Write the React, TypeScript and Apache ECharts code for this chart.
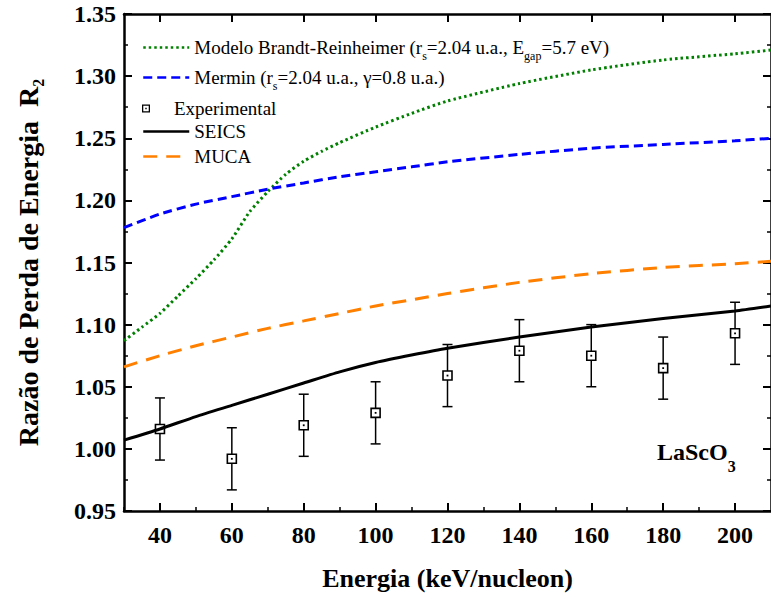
import React, { useEffect, useRef } from "react";
import * as echarts from "echarts";

// ---- data ----
const brEnergy = [30, 35, 40, 45, 50, 55, 60, 65, 70, 75, 80, 85, 90, 100, 110, 120, 140, 160, 180, 200, 210];
const brValues = [1.087, 1.098, 1.109, 1.123, 1.137, 1.152, 1.169, 1.191, 1.207, 1.221, 1.2315, 1.2395, 1.2465, 1.259, 1.27, 1.28, 1.294, 1.305, 1.313, 1.318, 1.321];

const curveEnergy = [30, 40, 50, 60, 70, 80, 90, 100, 110, 120, 140, 160, 180, 200, 210];
const merminValues = [1.178, 1.189, 1.197, 1.203, 1.209, 1.214, 1.219, 1.223, 1.227, 1.231, 1.237, 1.242, 1.245, 1.248, 1.25];
const seicsValues = [1.007, 1.016, 1.026, 1.035, 1.044, 1.053, 1.062, 1.0695, 1.0755, 1.081, 1.09, 1.098, 1.105, 1.111, 1.115];
const mucaValues = [1.066, 1.075, 1.083, 1.09, 1.097, 1.103, 1.109, 1.115, 1.12, 1.125, 1.134, 1.141, 1.146, 1.149, 1.151];

const expEnergy = [40, 60, 80, 100, 120, 140, 160, 180, 200];
const expValues = [1.016, 0.992, 1.019, 1.029, 1.059, 1.079, 1.075, 1.065, 1.093];
const expErrors = [0.025, 0.025, 0.025, 0.025, 0.025, 0.025, 0.025, 0.025, 0.025];

const xMajorTicks = [40, 60, 80, 100, 120, 140, 160, 180, 200];
const xMinorTicks = [30, 50, 70, 90, 110, 130, 150, 170, 190];

const FONT = "'Liberation Serif', 'Times New Roman', serif";

const pair = (xs: number[], ys: number[]) => xs.map((x, i) => [x, ys[i]]);

const legendRich = {
  a: { fontFamily: FONT, fontSize: 19, color: "#000", lineHeight: 28 },
  b: { fontFamily: FONT, fontSize: 12, color: "#000", lineHeight: 12, verticalAlign: "bottom" },
};

const legendLabels: Record<string, string> = {
  BR: "{a|Modelo Brandt-Reinheimer (r}{b|s}{a|=2.04 u.a., E}{b|gap}{a|=5.7 eV)}",
  Mermin: "{a|Mermin (r}{b|s}{a|=2.04 u.a., γ=0.8 u.a.)}",
  Experimental: "{a|Experimental}",
  SEICS: "{a|SEICS}",
  MUCA: "{a|MUCA}",
};

const expIcon = "path://M0,0H10V10H0Z M1.6,1.6V8.4H8.4V1.6Z M4.1,4.1H5.9V5.9H4.1Z";

function makeLegend(name: string, top: number, itemHeight: number, icon?: string) {
  return {
    data: [icon ? { name, icon } : name],
    left: 142,
    top,
    orient: "vertical",
    itemWidth: 46,
    itemHeight,
    itemGap: 0,
    padding: 0,
    selectedMode: false,
    formatter: (n: string) => legendLabels[n],
    textStyle: { rich: legendRich, fontFamily: FONT, fontSize: 19, color: "#000" },
    lineStyle: { width: 2.5 },
    itemStyle: icon ? { color: "#000" } : { color: "transparent", opacity: 0, borderWidth: 0 },
  };
}

export default function App() {
  const ref = useRef<HTMLDivElement>(null);

  useEffect(() => {
    if (!ref.current) return;
    const chart = echarts.init(ref.current, undefined, { renderer: "svg" });

    const axisLine = { show: true, lineStyle: { color: "#000", width: 2.5 } };
    const labelFont = { fontFamily: FONT, fontSize: 24, fontWeight: "bold", color: "#000" };

    const option: any = {
      animation: false,
      backgroundColor: "#fff",
      grid: { left: 124, top: 14, width: 655, height: 497, containLabel: false },
      xAxis: [
        {
          type: "value",
          position: "bottom",
          min: 30,
          max: 210,
          interval: 10,
          axisLine,
          axisTick: { show: true, inside: true, length: 8, lineStyle: { color: "#000", width: 2 }, customValues: xMajorTicks },
          axisLabel: { ...labelFont, margin: 12, customValues: xMajorTicks },
          splitLine: { show: false },
          name: "Energia (keV/nucleon)",
          nameLocation: "middle",
          nameGap: 54,
          nameTextStyle: { fontFamily: FONT, fontSize: 26, fontWeight: "bold", color: "#000" },
        },
        {
          type: "value",
          position: "top",
          min: 30,
          max: 210,
          interval: 10,
          axisLine,
          axisTick: { show: true, inside: true, length: 8, lineStyle: { color: "#000", width: 2 }, customValues: xMajorTicks },
          axisLabel: { show: false },
          splitLine: { show: false },
        },
        {
          type: "value",
          position: "bottom",
          min: 30,
          max: 210,
          interval: 10,
          axisLine: { show: false },
          axisTick: { show: true, inside: true, length: 4, lineStyle: { color: "#000", width: 1.5 }, customValues: xMinorTicks },
          axisLabel: { show: false },
          splitLine: { show: false },
        },
      ],
      yAxis: [
        {
          type: "value",
          position: "left",
          min: 0.95,
          max: 1.35,
          interval: 0.05,
          axisLine,
          axisTick: { show: true, inside: true, length: 8, lineStyle: { color: "#000", width: 2 } },
          minorTick: { show: true, splitNumber: 2, length: 4, lineStyle: { color: "#000", width: 1.5 } },
          axisLabel: { ...labelFont, margin: 8, formatter: (v: number) => v.toFixed(2) },
          splitLine: { show: false },
          minorSplitLine: { show: false },
          name: "{a|Razão de Perda de Energia  R}{b|2}",
          nameLocation: "middle",
          nameGap: 78,
          nameTextStyle: {
            fontFamily: FONT,
            fontSize: 28,
            fontWeight: "bold",
            color: "#000",
            rich: {
              a: { fontFamily: FONT, fontSize: 28, fontWeight: "bold", color: "#000", lineHeight: 36 },
              b: { fontFamily: FONT, fontSize: 16, fontWeight: "bold", color: "#000", lineHeight: 14, verticalAlign: "bottom" },
            },
          },
        },
        {
          type: "value",
          position: "right",
          min: 0.95,
          max: 1.35,
          interval: 0.05,
          axisLine,
          axisTick: { show: true, inside: true, length: 8, lineStyle: { color: "#000", width: 2 } },
          minorTick: { show: true, splitNumber: 2, length: 4, lineStyle: { color: "#000", width: 1.5 } },
          axisLabel: { show: false },
          splitLine: { show: false },
        },
      ],
      legend: [
        makeLegend("BR", 38, 14),
        makeLegend("Mermin", 68, 14),
        makeLegend("Experimental", 99, 8, expIcon),
        makeLegend("SEICS", 122, 14),
        makeLegend("MUCA", 147, 14),
      ],
      series: [
        {
          name: "BR",
          type: "line",
          data: pair(brEnergy, brValues),
          symbol: "none",
          smooth: 0.2,
          lineStyle: { color: "#008000", width: 3, type: [2.5, 3] },
          itemStyle: { color: "#008000" },
        },
        {
          name: "Mermin",
          type: "line",
          data: pair(curveEnergy, merminValues),
          symbol: "none",
          smooth: 0.2,
          lineStyle: { color: "#0000ff", width: 3, type: [9, 5] },
          itemStyle: { color: "#0000ff" },
        },
        {
          name: "SEICS",
          type: "line",
          data: pair(curveEnergy, seicsValues),
          symbol: "none",
          smooth: 0.2,
          lineStyle: { color: "#000", width: 3, type: "solid" },
          itemStyle: { color: "#000" },
        },
        {
          name: "MUCA",
          type: "line",
          data: pair(curveEnergy, mucaValues),
          symbol: "none",
          smooth: 0.2,
          lineStyle: { color: "#ff8000", width: 3, type: [14, 9] },
          itemStyle: { color: "#ff8000" },
        },
        {
          name: "Experimental",
          type: "custom",
          itemStyle: { color: "#000" },
          encode: { x: 0, y: 1 },
          data: expEnergy.map((x, i) => [x, expValues[i], expErrors[i]]),
          renderItem: (_params: any, api: any) => {
            const x = api.value(0);
            const y = api.value(1);
            const e = api.value(2);
            const c = api.coord([x, y]);
            const hi = api.coord([x, y + e]);
            const lo = api.coord([x, y - e]);
            const cap = 5;
            const half = 4.5;
            const st = { stroke: "#000", lineWidth: 1.5 };
            return {
              type: "group",
              children: [
                { type: "line", shape: { x1: c[0], y1: hi[1], x2: c[0], y2: lo[1] }, style: st },
                { type: "line", shape: { x1: c[0] - cap, y1: hi[1], x2: c[0] + cap, y2: hi[1] }, style: st },
                { type: "line", shape: { x1: c[0] - cap, y1: lo[1], x2: c[0] + cap, y2: lo[1] }, style: st },
                { type: "rect", shape: { x: c[0] - half, y: c[1] - half, width: half * 2, height: half * 2 }, style: { fill: "#fff", stroke: "#000", lineWidth: 1.6 } },
                { type: "rect", shape: { x: c[0] - 0.9, y: c[1] - 0.9, width: 1.8, height: 1.8 }, style: { fill: "#000" } },
              ],
            };
          },
        },
      ],
      graphic: [
        {
          type: "text",
          left: 657,
          top: 440,
          style: {
            text: "{a|LaScO}{b|3}",
            rich: {
              a: { fontFamily: FONT, fontSize: 24, fontWeight: "bold", fill: "#000", lineHeight: 44 },
              b: { fontFamily: FONT, fontSize: 16, fontWeight: "bold", fill: "#000", lineHeight: 14, verticalAlign: "bottom" },
            },
          },
        },
      ],
    };

    chart.setOption(option);
    return () => chart.dispose();
  }, []);

  return (
    <div
      ref={ref}
      style={{ position: "absolute", left: 0, top: 0, width: 771, height: 599, background: "#fff" }}
    />
  );
}
